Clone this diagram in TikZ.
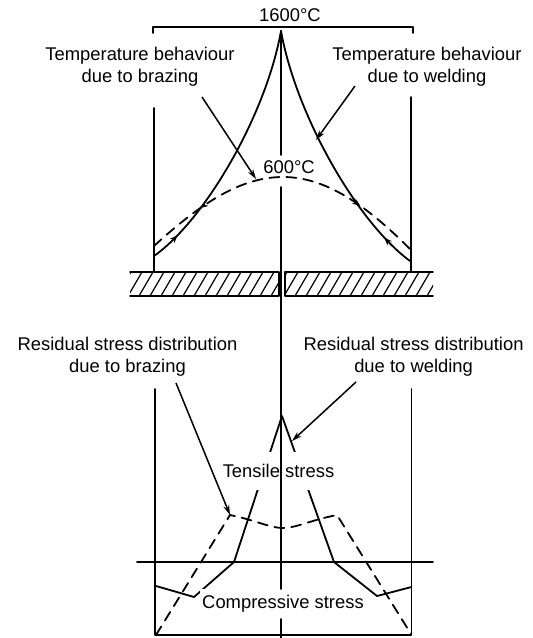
\documentclass[tikz,border=0pt]{standalone}
\usepackage{fontspec}
\setmainfont{Liberation Sans}
\usetikzlibrary{arrows.meta,decorations.markings}

\begin{document}
\begin{tikzpicture}[x=0.5pt, y=-0.5pt,
  lbl/.style={font=\fontsize{9.2}{11}\selectfont, align=center, inner sep=1pt},
  ln/.style={line width=0.9pt, line cap=round, line join=round},
  dsh/.style={ln, dash pattern=on 5pt off 3.5pt},
  hatch/.style={line width=0.6pt},
  lead/.style={line width=0.75pt, -{Stealth[length=5pt,width=3pt]}},
  tip/.style={-{Stealth[length=4pt,width=3pt]}},
]
\useasboundingbox (0,0) rectangle (533,638);

%% TEMPERATURE PART
\coordinate (peak) at (281,31);
\coordinate (dL) at (154,246);
\coordinate (dT) at (283,177);
\coordinate (dR) at (410,249);

\draw[ln] (153,33) -- (153,27) -- (413,27) -- (413,33);
\draw[ln] (154,108) -- (154,272);
\draw[ln] (411,97) -- (411,272);

% welding (solid)
\draw[ln, postaction={decorate}, decoration={markings,
      mark=at position 0.88 with {\arrowreversed[line width=0.8pt]{Stealth[length=4pt,width=3pt]}}}]
  (peak) .. controls (266,115) and (205,220) .. (154,256);
\draw[ln, postaction={decorate}, decoration={markings,
      mark=at position 0.87 with {\arrowreversed[line width=0.8pt]{Stealth[length=4pt,width=3pt]}}}]
  (peak) .. controls (296,115) and (357,222) .. (410,261);

% brazing (dashed)
\draw[dsh, postaction={decorate}, decoration={markings,
      mark=at position 0.2 with {\arrowreversed[solid]{Stealth[length=4pt,width=3pt]}},
      mark=at position 0.78 with {\arrow[solid]{Stealth[length=4pt,width=3pt]}}}]
  (dL) .. controls (200,204) and (240,177) .. (dT)
       .. controls (326,177) and (366,205) .. (dR);

\node[lbl] (t1600) at (290,15) {1600\textdegree C};
\node[lbl] (t600) at (289,167) {600\textdegree C};
\node[lbl] (tbraz) at (140,67) {Temperature behaviour\\due to brazing};
\node[lbl] (tweld) at (427,67) {Temperature behaviour\\due to welding};

\coordinate (tbrazS) at (202,97);
\coordinate (tbrazE) at (256,179);
\coordinate (tweldS) at (355,86);
\coordinate (tweldE) at (316,140);
\draw[lead] (tbrazS) -- (tbrazE);
\draw[lead] (tweldS) -- (tweldE);

%% PLATES
\begin{scope}
  \clip (130,272) rectangle (279,296);
  \foreach \x in {106,117,...,290} \draw[hatch] (\x,296) -- ++(14,-24);
\end{scope}
\begin{scope}
  \clip (285,272) rectangle (433,296);
  \foreach \x in {262,273,...,440} \draw[hatch] (\x,296) -- ++(14,-24);
\end{scope}
\draw[ln] (130,272) -- (279,272) -- (279,296) -- (130,296);
\draw[ln] (433,272) -- (285,272) -- (285,296) -- (433,296);

%% RESIDUAL STRESS PART
\draw[ln] (155,389) -- (155,635) -- (411.5,635) -- (411.5,389);
\draw[ln] (137,562) -- (433,562);

\coordinate (speak) at (282,416);
\draw[ln] (156,586) -- (194,597) -- (234,562) -- (speak)
  -- (334,562) -- (377,596) -- (411.5,587);

\coordinate (kL) at (230,515);
\coordinate (kR) at (337,515);
\draw[dsh] (156,635) -- (kL) .. controls (255,520) and (270,528) .. (283,528)
  .. controls (296,528) and (311,520) .. (kR) -- (411,634);

\node[lbl] (rbraz) at (127.5,356.5) {Residual stress distribution\\due to brazing};
\node[lbl] (rweld) at (413.6,356.5) {Residual stress distribution\\due to welding};

\coordinate (rbrazS) at (176,383);
\coordinate (rweldS) at (356,382);
\coordinate (rweldE) at (292,441);
\draw[lead] (rbrazS) -- (kL);
\draw[lead] (rweldS) -- (rweldE);

\node[lbl, fill=white, inner xsep=1pt, inner ysep=6pt] (tens) at (278.5,471) {Tensile stress};
\node[lbl, fill=white, inner xsep=1pt, inner ysep=3pt] (comp) at (283,604) {Compressive stress};

%% CENTRE LINE
\draw[ln] (peak) -- (281,155);
\draw[ln] (281,187) -- (comp.north -| 281,0);
\draw[ln] (comp.south -| 281,0) -- (281,638);

\end{tikzpicture}
\end{document}
